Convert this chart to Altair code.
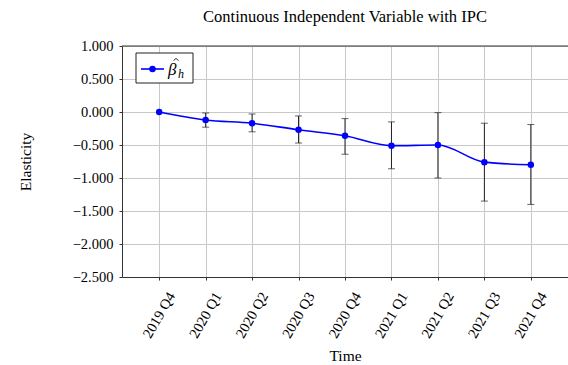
import altair as alt
import pandas as pd

quarters = ["2019 Q4", "2020 Q1", "2020 Q2", "2020 Q3", "2020 Q4",
            "2021 Q1", "2021 Q2", "2021 Q3", "2021 Q4"]
beta = [0.0, -0.12, -0.17, -0.27, -0.36, -0.51, -0.50, -0.76, -0.80]
lower = [0.0, -0.23, -0.30, -0.47, -0.64, -0.86, -1.00, -1.35, -1.40]
upper = [0.0, -0.015, -0.03, -0.06, -0.10, -0.15, -0.01, -0.17, -0.19]
y_ticks = [1.0, 0.5, 0.0, -0.5, -1.0, -1.5, -2.0, -2.5]

df = pd.DataFrame({"Time": quarters, "beta": beta, "lo": lower, "hi": upper})
err_df = df.iloc[1:]

FONT = "Liberation Serif"
BLUE = "#0000ff"

xs = alt.Scale(type="point", domain=quarters, padding=0.8)
ys = alt.Scale(domain=[-2.5, 1.0], nice=False, zero=False)

common = dict(labelFont=FONT, labelFontSize=14.5, titleFont=FONT, titleFontSize=15.5,
              titleFontWeight="normal", grid=True, gridColor="#c8c8c8",
              domainColor="#333333", tickColor="#333333", tickSize=3,
              labelColor="black", titleColor="black")

x_axis = alt.Axis(title="Time", labelAngle=-60, labelAlign="center",
                  labelBaseline="middle", labelPadding=35, labelOverlap=False,
                  titleY=78, titleBaseline="middle", **common)
y_axis = alt.Axis(title="Elasticity", values=y_ticks, format=".3f",
                  labelPadding=6, labelOverlap=False,
                  titleX=-97, titleY=115.5, titleAngle=270,
                  titleAlign="center", titleBaseline="middle", **common)

xn = alt.X("Time:N", scale=xs, sort=quarters, axis=x_axis)

def yq(field):
    return alt.Y(field, scale=ys, axis=y_axis, title="Elasticity")

base = alt.Chart(df)

line = base.mark_line(color=BLUE, strokeWidth=1.6, interpolate="monotone").encode(
    x=xn, y=yq("beta:Q"))

err = alt.Chart(err_df).mark_rule(color="#222222", strokeWidth=1).encode(
    x=xn, y=yq("lo:Q"), y2="hi:Q")
cap_lo = alt.Chart(err_df).mark_tick(color="#222222", thickness=1, size=7, orient="horizontal").encode(
    x=xn, y=yq("lo:Q"))
cap_hi = alt.Chart(err_df).mark_tick(color="#222222", thickness=1, size=7, orient="horizontal").encode(
    x=xn, y=yq("hi:Q"))

pts = base.mark_circle(color=BLUE, size=42, opacity=1).encode(
    x=xn, y=yq("beta:Q"))

top = alt.Chart(pd.DataFrame({"v": [1.0]})).mark_rule(color="#333333", strokeWidth=1).encode(
    y=yq("v:Q"))

# legend box
leg_df = pd.DataFrame({"k": [0]})
leg_box = alt.Chart(leg_df).mark_rect(fill="white", stroke="#222222", strokeWidth=1).encode(
    x=alt.value(14), x2=alt.value(71), y=alt.value(7), y2=alt.value(37))
leg_line = alt.Chart(leg_df).mark_rule(color=BLUE, strokeWidth=1.6).encode(
    x=alt.value(19), x2=alt.value(42), y=alt.value(23))
leg_pt = alt.Chart(leg_df).mark_circle(color=BLUE, size=42, opacity=1).encode(
    x=alt.value(30.5), y=alt.value(23))
leg_beta = alt.Chart(leg_df).mark_text(text="β", font=FONT, fontSize=17, fontStyle="italic",
                                       align="left", baseline="alphabetic", color="black").encode(
    x=alt.value(46), y=alt.value(29))
leg_hat = alt.Chart(leg_df).mark_point(shape="M -1 0.5 L 0 -0.5 L 1 0.5", filled=False,
                                       color="black", strokeWidth=0.9, size=22, opacity=1).encode(
    x=alt.value(54), y=alt.value(13.5))
leg_sub = alt.Chart(leg_df).mark_text(text="h", font=FONT, fontSize=12, fontStyle="italic",
                                      align="left", baseline="alphabetic", color="black").encode(
    x=alt.value(56), y=alt.value(32))

chart = alt.layer(line, err, cap_lo, cap_hi, pts, top, leg_box, leg_line, leg_pt,
                  leg_beta, leg_hat, leg_sub).properties(
    width=446, height=231,
    title=alt.TitleParams("Continuous Independent Variable with IPC", font=FONT, fontSize=16.5,
                          fontWeight="normal", anchor="middle", offset=13, color="black"),
    autosize=alt.AutoSizeParams(type="none"),
    padding={"left": 122, "top": 46, "right": 0, "bottom": 88},
).configure_view(stroke=None).configure(
    background="white", font=FONT,
    style={"guide-label": {"font": FONT, "fontSize": 14.5},
           "guide-title": {"font": FONT, "fontSize": 15.5}},
).configure_axis(**common)

chart.save("out.html", embed_options={"renderer": "svg", "actions": False})
